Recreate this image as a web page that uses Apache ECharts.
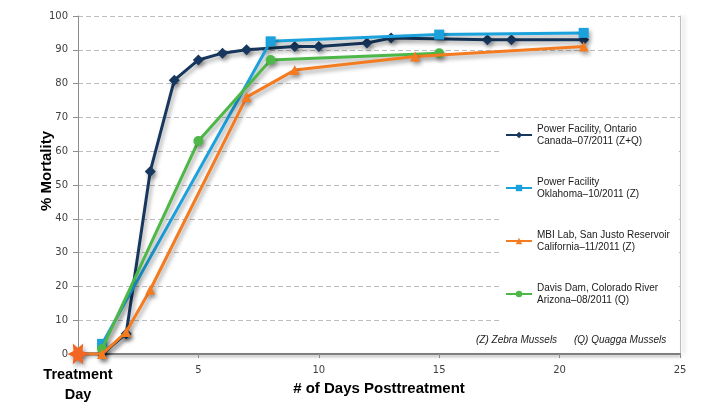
<!DOCTYPE html>
<html>
<head>
<meta charset="utf-8">
<script src="https://cdn.jsdelivr.net/npm/echarts@6/dist/echarts.min.js"></script>
<style>html,body{margin:0;padding:0;background:#fff}#c{width:706px;height:409px}</style>
</head>
<body>
<div id="c"></div>
<script>
// ---- data ----
var seriesNames = [
  'Power Facility, Ontario\nCanada\u201307/2011 (Z+Q)',
  'Power Facility\nOklahoma\u201310/2011 (Z)',
  'MBI Lab, San Justo Reservoir\nCalifornia\u201311/2011 (Z)',
  'Davis Dam, Colorado River\nArizona\u201308/2011 (Q)'
];
var ontarioDays = [0, 1, 2, 3, 4, 5, 6, 7, 9, 10, 12, 13, 17, 18, 21];
var ontarioVals = [0, 0, 6, 54, 81, 87, 89, 90, 91, 91, 92, 93.5, 93, 93, 93];
var oklahomaDays = [1, 8, 15, 21];
var oklahomaVals = [3, 92.5, 94.5, 95];
var californiaDays = [0, 1, 2, 3, 7, 9, 14, 21];
var californiaVals = [0, 0, 6.5, 19, 76, 84, 88, 91];
var arizonaDays = [1, 5, 8, 15];
var arizonaVals = [1.5, 63, 87, 89];
var xTicks = [0, 5, 10, 15, 20, 25];
var yTicks = [0, 10, 20, 30, 40, 50, 60, 70, 80, 90, 100];
var treatmentLabel = ['Treatment', 'Day'];
var noteTexts = ['(Z) Zebra Mussels', '(Q) Quagga Mussels'];

// ---- build ----
function pairs(xs, ys) { return xs.map(function (x, i) { return [x, ys[i]]; }); }
var starPath = 'path://M10 0 L4.33 2.5 L5 8.66 L0 5 L-5 8.66 L-4.33 2.5 L-10 0 L-4.33 -2.5 L-5 -8.66 L0 -5 L5 -8.66 L4.33 -2.5 Z';
var colors = ['#17375E', '#1BA1DC', '#F47B20', '#4DB848'];
var shadow = { shadowColor: 'rgba(0,0,0,0.35)', shadowBlur: 4, shadowOffsetX: 2, shadowOffsetY: 3 };

function mkSeries(i, data, symbol, size) {
  return {
    type: 'line', name: seriesNames[i], data: data, symbol: symbol, symbolSize: size,
    showAllSymbol: true, z: 2 + i,
    lineStyle: Object.assign({ color: colors[i], width: 3 }, shadow),
    itemStyle: Object.assign({ color: colors[i] }, shadow),
    emphasis: { disabled: true }, animation: false
  };
}
var calData = pairs(californiaDays, californiaVals).map(function (p, i) {
  return i === 0 ? { value: p, symbol: starPath, symbolSize: 21, itemStyle: { color: '#F26522' }, z: 20 } : p;
});
var calSeries = mkSeries(2, calData, 'triangle', 10);
calSeries.z = 10;

var option = {
  animation: false,
  color: colors,
  grid: { left: 78, right: 26, top: 16, bottom: 55, outerBoundsMode: 'none', containLabel: false },
  xAxis: {
    type: 'value', min: 0, max: 25, interval: 5,
    name: '# of Days Posttreatment', nameLocation: 'middle', nameGap: 27, nameMoveOverlap: false,
    nameTextStyle: { fontFamily: 'Liberation Sans', fontWeight: 'bold', fontSize: 15, color: '#000' },
    axisLine: { lineStyle: Object.assign({ color: '#7F7F7F', width: 2 }, { shadowColor: 'rgba(0,0,0,0.3)', shadowBlur: 3, shadowOffsetY: 2 }) },
    axisTick: { show: true, length: 4, lineStyle: { color: '#8C8C8C' } },
    splitLine: { show: false },
    axisLabel: {
      margin: 11, fontFamily: 'DejaVu Sans', fontSize: 10, color: '#404040',
      formatter: function (v) {
        if (v === xTicks[0]) return '{b|' + treatmentLabel[0] + '}\n{b|' + treatmentLabel[1] + '}';
        return String(v);
      },
      rich: { b: { fontFamily: 'Liberation Sans', fontWeight: 'bold', fontSize: 14.5, lineHeight: 20, color: '#000' } }
    }
  },
  yAxis: [{
    type: 'value', min: yTicks[0], max: yTicks[yTicks.length - 1], interval: 10,
    name: '% Mortality', nameLocation: 'middle', nameGap: 24, nameMoveOverlap: false,
    nameTextStyle: { fontFamily: 'Liberation Sans', fontWeight: 'bold', fontSize: 15, color: '#000', padding: [0, 0, 0, 28] },
    axisLine: { show: true, lineStyle: { color: '#8C8C8C', width: 1 } },
    axisTick: { show: true, length: 5, lineStyle: { color: '#8C8C8C' } },
    axisLabel: { margin: 10, fontFamily: 'DejaVu Sans', fontSize: 10, color: '#404040' },
    splitLine: { show: true, lineStyle: { color: '#BDBDBD', type: [5, 3], width: 1 } }
  }, {
    type: 'value', min: yTicks[0], max: yTicks[yTicks.length - 1], interval: 10, position: 'right',
    axisLine: { show: true, lineStyle: { color: '#BFBFBF', width: 1, shadowColor: 'rgba(0,0,0,0.3)', shadowBlur: 4, shadowOffsetX: 3 } },
    axisTick: { show: false }, axisLabel: { show: false }, splitLine: { show: false }
  }],
  legend: {
    orient: 'vertical', left: 500, top: 118,
    backgroundColor: '#fff',
    padding: [5, 9, 42, 5],
    itemWidth: 26, itemHeight: 8, itemGap: 29,
    selectedMode: false,
    textStyle: { fontFamily: 'Liberation Sans', fontSize: 10, lineHeight: 12, color: '#1a1a1a' },
    data: seriesNames
  },
  graphic: [
    { type: 'text', left: 476, top: 335, z: 100, style: { text: noteTexts[0], font: 'italic 10px "Liberation Sans"', fill: '#1a1a1a' } },
    { type: 'text', left: 574, top: 335, z: 100, style: { text: noteTexts[1], font: 'italic 10px "Liberation Sans"', fill: '#1a1a1a' } }
  ],
  series: [
    mkSeries(0, pairs(ontarioDays, ontarioVals), 'diamond', 11),
    mkSeries(1, pairs(oklahomaDays, oklahomaVals), 'rect', 10),
    calSeries,
    mkSeries(3, pairs(arizonaDays, arizonaVals), 'circle', 10)
  ]
};
var chart = echarts.init(document.getElementById('c'), null, { renderer: 'canvas' });
chart.setOption(option);
</script>
</body>
</html>
